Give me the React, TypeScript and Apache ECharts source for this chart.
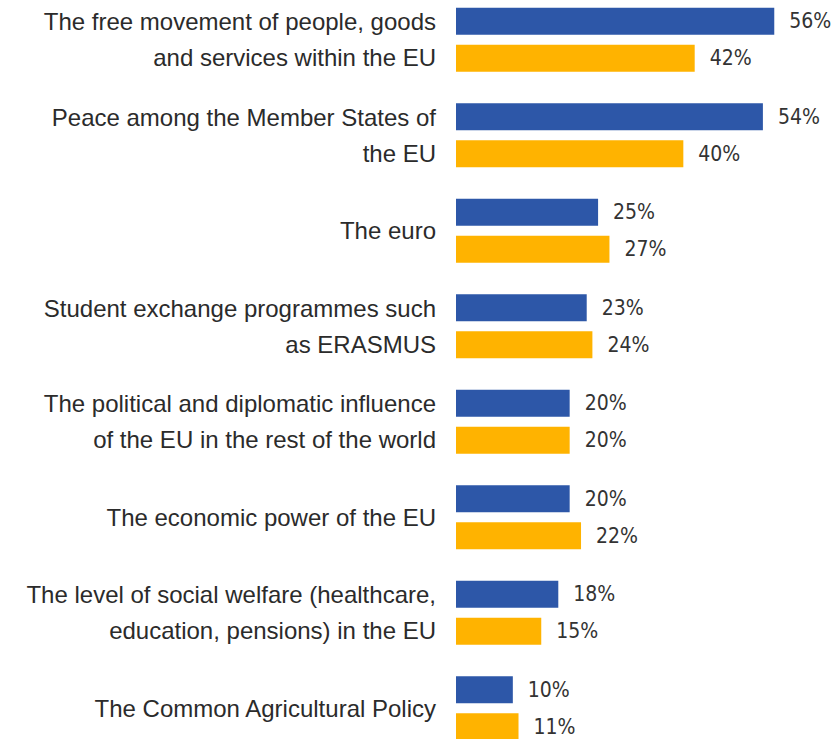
import React, { useEffect, useRef } from "react";
import * as echarts from "echarts";

const categories = [
  "The free movement of people, goods\nand services within the EU",
  "Peace among the Member States of\nthe EU",
  "The euro",
  "Student exchange programmes such\nas ERASMUS",
  "The political and diplomatic influence\nof the EU in the rest of the world",
  "The economic power of the EU",
  "The level of social welfare (healthcare,\neducation, pensions) in the EU",
  "The Common Agricultural Policy",
];
const seriesA = [56, 54, 25, 23, 20, 20, 18, 10];
const seriesB = [42, 40, 27, 24, 20, 22, 15, 11];

export default function App() {
  const ref = useRef<HTMLDivElement>(null);
  useEffect(() => {
    if (!ref.current) return;
    const chart = echarts.init(ref.current, null, { renderer: "svg" });
    const labelStyle = {
      show: true,
      position: "right" as const,
      distance: 15,
      formatter: "{c}%",
      color: "#333333",
      fontSize: 21,
      fontFamily: "'DejaVu Sans Condensed', 'Liberation Sans Narrow', 'Liberation Sans', Arial, sans-serif",
    };
    chart.setOption({
      animation: false,
      backgroundColor: "#ffffff",
      grid: { left: 456, top: 0, width: 341, height: 764, containLabel: false },
      xAxis: {
        type: "value",
        min: 0,
        max: 60,
        show: false,
      },
      yAxis: {
        type: "category",
        data: categories,
        inverse: true,
        axisLine: { show: false },
        axisTick: { show: false },
        splitLine: { show: false },
        axisLabel: {
          margin: 20,
          color: "#2b2b2b",
          fontSize: 24,
          lineHeight: 36,
          align: "right",
          fontFamily: "'Liberation Sans', Arial, sans-serif",
          padding: [5, 0, 0, 0],
        },
      },
      series: [
        {
          type: "bar",
          data: seriesA,
          barWidth: 27,
          barGap: "37%",
          itemStyle: { color: "#2D57A8" },
          label: labelStyle,
        },
        {
          type: "bar",
          data: seriesB,
          barWidth: 27,
          itemStyle: { color: "#FFB300" },
          label: labelStyle,
        },
      ],
    });
    return () => chart.dispose();
  }, []);
  return (
    <div
      ref={ref}
      style={{ position: "fixed", top: -8, left: 0, width: 835, height: 775, background: "#fff" }}
    />
  );
}
